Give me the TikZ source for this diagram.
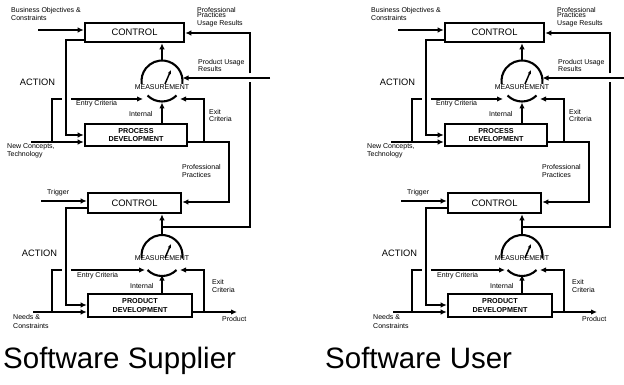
\documentclass[tikz,border=0pt]{standalone}
\usepackage{fontspec}
\setmainfont{Liberation Sans}
\usetikzlibrary{arrows.meta}

\tikzset{
  conn/.style={line width=2.1pt},
  arr/.style={conn, -{Latex[length=6pt,width=5.5pt]}},
  needle/.style={line width=1.5pt, -{Latex[length=4pt,width=3.5pt]}},
  box/.style={draw, line width=2.6pt, inner sep=0pt, align=center},
  ctrl/.style={box, font=\fontsize{9.4}{10}\selectfont},
  dev/.style={box, font=\bfseries\fontsize{7.2}{8.2}\selectfont},
  lbl/.style={inner sep=0pt, anchor=base west, font=\fontsize{7}{8}\selectfont},
  act/.style={inner sep=0pt, font=\fontsize{9.3}{10}\selectfont},
  meas/.style={inner sep=0pt, font=\fontsize{7}{8}\selectfont},
  ttl/.style={inner sep=0pt, anchor=base west, font=\fontsize{29.5}{32}\selectfont},
}

% Split dial: upper arc, lower arc and a pointer
\newcommand\dialat[2]{%
  \coordinate (#1) at #2;
  \draw[conn] (#1) ++(-8:20.5pt) arc[start angle=-8, end angle=188, radius=20.5pt];
  \draw[conn] (#1) ++(-135:20.5pt) arc[start angle=-135, end angle=-45, radius=20.5pt];
}

% One two-level process/measurement loop
\newcommand\looppanel{%
  % ---------- boxes ----------
  \node[ctrl, minimum width=99pt, minimum height=19pt] (ctrlA) at (134.5,32.5) {CONTROL};
  \node[dev, minimum width=102pt, minimum height=22pt] (procA) at (136,135) {PROCESS\\DEVELOPMENT};
  \node[ctrl, minimum width=93pt, minimum height=20pt] (ctrlB) at (134.5,203) {CONTROL};
  \node[dev, minimum width=104pt, minimum height=23pt] (prodB) at (140,305.5) {PRODUCT\\DEVELOPMENT};
  % ---------- dials ----------
  \dialat{mA}{(162,81)}
  \dialat{mB}{(162,255.5)}
  \node[meas] (measA) at (162,87) {MEASUREMENT};
  \node[meas] (measB) at (162,258.5) {MEASUREMENT};
  \coordinate (ndA0) at (165,84);   \coordinate (ndA1) at (171,70);
  \coordinate (ndB0) at (165,258);  \coordinate (ndB1) at (171,244);
  \draw[needle] (ndA0) -- (ndA1);
  \draw[needle] (ndB0) -- (ndB1);
  % ---------- upper loop ----------
  \coordinate (bizIn) at (38,30);
  \draw[arr] (bizIn) -- (bizIn -| ctrlA.west);
  \coordinate (actTopA) at (66,40);
  \coordinate (actBotA) at (66,135);
  \draw[arr] (actTopA -| ctrlA.west) -- (actTopA) -- (actBotA) -- (actBotA -| procA.west);
  \coordinate (ncIn) at (31,142);
  \coordinate (entJA) at (52,142);
  \coordinate (entCA) at (52,99);
  \coordinate (entGapA) at (62,99);
  \coordinate (entResA) at (71,99);
  \coordinate (entTipA) at (143,99);
  \draw[arr] (ncIn) -- (ncIn -| procA.west);
  \draw[conn] (entJA) -- (entCA) -- (entGapA);
  \draw[arr] (entResA) -- (entTipA);
  \coordinate (intTipA) at (162,102.5);
  \draw[arr] (intTipA |- procA.north) -- (intTipA);
  \coordinate (exJA) at (204,142);
  \coordinate (exCA) at (204,99);
  \coordinate (exTipA) at (180,99);
  \draw[arr] (exJA -| procA.east) -- (exJA) -- (exCA) -- (exTipA);
  \coordinate (ppCA) at (229,142);
  \coordinate (ppCB) at (229,202);
  \draw[arr] (exJA) -- (ppCA) -- (ppCB) -- (ppCB -| ctrlB.east);
  \coordinate (mTopA) at (162,60.5);
  \draw[arr] (mTopA) -- (mTopA |- ctrlA.south);
  \coordinate (puIn) at (270,78);
  \coordinate (puTip) at (182.5,78);
  \draw[arr] (puIn) -- (puTip);
  % ---------- feedback from the lower dial ----------
  \coordinate (mTopB) at (162,235);
  \coordinate (fbJ) at (162,227);
  \coordinate (fbC) at (250,227);
  \coordinate (fbGapLo) at (250,82.5);
  \coordinate (fbGapHi) at (250,73.5);
  \coordinate (fbTop) at (250,33);
  \draw[arr] (mTopB) -- (mTopB |- ctrlB.south);
  \draw[conn] (fbJ) -- (fbC) -- (fbGapLo);
  \draw[arr] (fbGapHi) -- (fbTop) -- (fbTop -| ctrlA.east);
  % ---------- lower loop ----------
  \coordinate (trgIn) at (41,201);
  \draw[arr] (trgIn) -- (trgIn -| ctrlB.west);
  \coordinate (actTopB) at (66,208);
  \coordinate (actBotB) at (66,305);
  \draw[arr] (actTopB -| ctrlB.west) -- (actTopB) -- (actBotB) -- (actBotB -| prodB.west);
  \coordinate (ndIn) at (33,312);
  \coordinate (entJB) at (52,312);
  \coordinate (entCB) at (52,270);
  \coordinate (entGapB) at (62,270);
  \coordinate (entResB) at (71,270);
  \coordinate (entTipB) at (145,270);
  \draw[arr] (ndIn) -- (ndIn -| prodB.west);
  \draw[conn] (entJB) -- (entCB) -- (entGapB);
  \draw[arr] (entResB) -- (entTipB);
  \coordinate (intTipB) at (162,274.5);
  \draw[arr] (intTipB |- prodB.north) -- (intTipB);
  \coordinate (exJB) at (204,312);
  \coordinate (exCB) at (204,270);
  \coordinate (exTipB) at (180,270);
  \draw[arr] (exJB -| prodB.east) -- (exJB) -- (exCB) -- (exTipB);
  \coordinate (outB) at (237,312);
  \draw[arr] (exJB) -- (outB);
  % ---------- labels ----------
  \node[lbl] (tBiz1) at (11,12.5) {Business Objectives \&};
  \node[lbl] (tBiz2) at (11,20.5) {Constraints};
  \node[lbl] (tPP1) at (197,12.5) {Professional};
  \node[lbl] (tPP2) at (197,17.5) {Practices};
  \node[lbl] (tPP3) at (197,25.5) {Usage Results};
  \node[lbl] (tPU1) at (198,64.5) {Product Usage};
  \node[lbl] (tPU2) at (198,71.5) {Results};
  \node[act] (tActA) at (37.5,82) {ACTION};
  \node[lbl] (tEntA) at (76,105.5) {Entry Criteria};
  \node[lbl] (tIntA) at (129,116.5) {Internal};
  \node[lbl] (tExA1) at (209,114.5) {Exit};
  \node[lbl] (tExA2) at (209,121.5) {Criteria};
  \node[lbl] (tNC1) at (7,148.5) {New Concepts,};
  \node[lbl] (tNC2) at (7,156.5) {Technology};
  \node[lbl] (tPPB1) at (182,169.5) {Professional};
  \node[lbl] (tPPB2) at (182,177.5) {Practices};
  \node[lbl] (tTrg) at (47,194.5) {Trigger};
  \node[act] (tActB) at (39.5,253) {ACTION};
  \node[lbl] (tEntB) at (77,277.5) {Entry Criteria};
  \node[lbl] (tIntB) at (130,288.5) {Internal};
  \node[lbl] (tExB1) at (212,284.5) {Exit};
  \node[lbl] (tExB2) at (212,292.5) {Criteria};
  \node[lbl] (tNd1) at (13,319.5) {Needs \&};
  \node[lbl] (tNd2) at (13,328.5) {Constraints};
  \node[lbl] (tOut) at (222,321.5) {Product};
}

\begin{document}
\begin{tikzpicture}[x=1pt, y=-1pt]
  \useasboundingbox[fill=white] (0,0) rectangle (624,385);
  \begin{scope}[name prefix=sup-]
    \looppanel
  \end{scope}
  \begin{scope}[xshift=360pt, name prefix=usr-]
    \looppanel
  \end{scope}
  \node[ttl] (titleSup) at (3,368) {Software Supplier};
  \node[ttl] (titleUsr) at (325,368) {Software User};
\end{tikzpicture}
\end{document}
